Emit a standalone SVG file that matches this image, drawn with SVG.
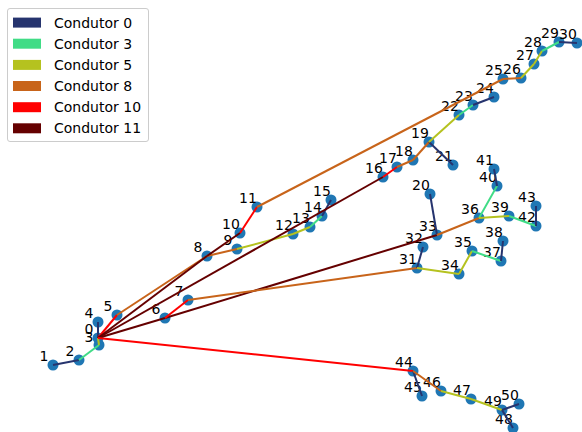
<svg xmlns="http://www.w3.org/2000/svg" width="582" height="432" viewBox="0 0 582 432">
<style>
  .n circle { fill: #1f77b4; }
  .n text { font-family: "DejaVu Sans", sans-serif; font-size: 14px; fill: #000; text-anchor: middle; }
  .e line { stroke-width: 2; stroke-linecap: butt; fill: none; }
  .c0 { stroke: #26346e; }
  .c3 { stroke: #40dc86; }
  .c5 { stroke: #b5c21f; }
  .c8 { stroke: #c8641a; }
  .c10 { stroke: #ff0000; }
  .c11 { stroke: #650000; }
  .lg text { font-family: "DejaVu Sans", sans-serif; font-size: 14px; fill: #000; }
</style>
<rect width="582" height="432" fill="#ffffff"/>

<!-- nodes: dot plus its label, label offset up-left of the dot -->
<g id="node-0" class="n"><circle cx="98" cy="338" r="5.5"/><text x="89" y="334">0</text></g>
<g id="node-1" class="n"><circle cx="53" cy="365" r="5.5"/><text x="44" y="361">1</text></g>
<g id="node-2" class="n"><circle cx="79" cy="360" r="5.5"/><text x="70" y="356">2</text></g>
<g id="node-3" class="n"><circle cx="99" cy="345" r="5.5"/><text x="89" y="342">3</text></g>
<g id="node-4" class="n"><circle cx="98" cy="322" r="5.5"/><text x="89" y="318">4</text></g>
<g id="node-5" class="n"><circle cx="117" cy="315" r="5.5"/><text x="108" y="311">5</text></g>
<g id="node-6" class="n"><circle cx="165" cy="318" r="5.5"/><text x="156" y="314">6</text></g>
<g id="node-7" class="n"><circle cx="188" cy="300" r="5.5"/><text x="179" y="296">7</text></g>
<g id="node-8" class="n"><circle cx="207" cy="256" r="5.5"/><text x="198" y="252">8</text></g>
<g id="node-9" class="n"><circle cx="237" cy="249" r="5.5"/><text x="228" y="245">9</text></g>
<g id="node-10" class="n"><circle cx="240" cy="233" r="5.5"/><text x="231" y="229">10</text></g>
<g id="node-11" class="n"><circle cx="257" cy="207" r="5.5"/><text x="248" y="203">11</text></g>
<g id="node-12" class="n"><circle cx="293" cy="234" r="5.5"/><text x="284" y="230">12</text></g>
<g id="node-13" class="n"><circle cx="310" cy="227" r="5.5"/><text x="301" y="223">13</text></g>
<g id="node-14" class="n"><circle cx="322" cy="216" r="5.5"/><text x="313" y="212">14</text></g>
<g id="node-15" class="n"><circle cx="331" cy="200" r="5.5"/><text x="322" y="196">15</text></g>
<g id="node-16" class="n"><circle cx="383" cy="177" r="5.5"/><text x="374" y="173">16</text></g>
<g id="node-17" class="n"><circle cx="397" cy="167" r="5.5"/><text x="388" y="163">17</text></g>
<g id="node-18" class="n"><circle cx="413" cy="160" r="5.5"/><text x="404" y="156">18</text></g>
<g id="node-19" class="n"><circle cx="429" cy="142" r="5.5"/><text x="420" y="138">19</text></g>
<g id="node-20" class="n"><circle cx="430" cy="194" r="5.5"/><text x="421" y="190">20</text></g>
<g id="node-21" class="n"><circle cx="453" cy="165" r="5.5"/><text x="444" y="161">21</text></g>
<g id="node-22" class="n"><circle cx="459" cy="115" r="5.5"/><text x="450" y="111">22</text></g>
<g id="node-23" class="n"><circle cx="473" cy="105" r="5.5"/><text x="464" y="101">23</text></g>
<g id="node-24" class="n"><circle cx="494" cy="97" r="5.5"/><text x="485" y="93">24</text></g>
<g id="node-25" class="n"><circle cx="503" cy="79" r="5.5"/><text x="494" y="75">25</text></g>
<g id="node-26" class="n"><circle cx="521" cy="78" r="5.5"/><text x="512" y="74">26</text></g>
<g id="node-27" class="n"><circle cx="534" cy="64" r="5.5"/><text x="525" y="60">27</text></g>
<g id="node-28" class="n"><circle cx="542" cy="51" r="5.5"/><text x="533" y="47">28</text></g>
<g id="node-29" class="n"><circle cx="559" cy="42" r="5.5"/><text x="550" y="38">29</text></g>
<g id="node-30" class="n"><circle cx="577" cy="43" r="5.5"/><text x="568" y="39">30</text></g>
<g id="node-31" class="n"><circle cx="417" cy="268" r="5.5"/><text x="408" y="264">31</text></g>
<g id="node-32" class="n"><circle cx="423" cy="247" r="5.5"/><text x="414" y="243">32</text></g>
<g id="node-33" class="n"><circle cx="437" cy="235" r="5.5"/><text x="428" y="231">33</text></g>
<g id="node-34" class="n"><circle cx="459" cy="274" r="5.5"/><text x="450" y="270">34</text></g>
<g id="node-35" class="n"><circle cx="472" cy="251" r="5.5"/><text x="463" y="247">35</text></g>
<g id="node-36" class="n"><circle cx="479" cy="218" r="5.5"/><text x="470" y="214">36</text></g>
<g id="node-37" class="n"><circle cx="501" cy="261" r="5.5"/><text x="492" y="257">37</text></g>
<g id="node-38" class="n"><circle cx="503" cy="241" r="5.5"/><text x="494" y="237">38</text></g>
<g id="node-39" class="n"><circle cx="509" cy="216" r="5.5"/><text x="500" y="212">39</text></g>
<g id="node-40" class="n"><circle cx="497" cy="186" r="5.5"/><text x="488" y="182">40</text></g>
<g id="node-41" class="n"><circle cx="494" cy="169" r="5.5"/><text x="485" y="165">41</text></g>
<g id="node-42" class="n"><circle cx="536" cy="226" r="5.5"/><text x="527" y="222">42</text></g>
<g id="node-43" class="n"><circle cx="536" cy="206" r="5.5"/><text x="527" y="202">43</text></g>
<g id="node-44" class="n"><circle cx="413" cy="371" r="5.5"/><text x="404" y="367">44</text></g>
<g id="node-45" class="n"><circle cx="422" cy="396" r="5.5"/><text x="413" y="392">45</text></g>
<g id="node-46" class="n"><circle cx="441" cy="391" r="5.5"/><text x="432" y="387">46</text></g>
<g id="node-47" class="n"><circle cx="471" cy="399" r="5.5"/><text x="462" y="395">47</text></g>
<g id="node-48" class="n"><circle cx="513" cy="428" r="5.5"/><text x="504" y="424">48</text></g>
<g id="node-49" class="n"><circle cx="502" cy="410" r="5.5"/><text x="493" y="406">49</text></g>
<g id="node-50" class="n"><circle cx="519" cy="404" r="5.5"/><text x="510" y="400">50</text></g>

<!-- connectors, coloured by conductor type -->
<g id="edges" class="e">
  <line class="c0" x1="53" y1="365" x2="79" y2="360"/>
  <line class="c3" x1="79" y1="360" x2="99" y2="345"/>
  <line class="c5" x1="98" y1="338" x2="99" y2="345"/>
  <line class="c0" x1="98" y1="338" x2="98" y2="322"/>
  <line class="c10" x1="98" y1="338" x2="117" y2="315"/>
  <line class="c8" x1="117" y1="315" x2="207" y2="256"/>
  <line class="c8" x1="207" y1="256" x2="237" y2="249"/>
  <line class="c5" x1="237" y1="249" x2="293" y2="234"/>
  <line class="c5" x1="293" y1="234" x2="310" y2="227"/>
  <line class="c3" x1="310" y1="227" x2="322" y2="216"/>
  <line class="c0" x1="322" y1="216" x2="331" y2="200"/>
  <line class="c11" x1="98" y1="338" x2="207" y2="256"/>
  <line class="c11" x1="207" y1="256" x2="240" y2="233"/>
  <line class="c10" x1="240" y1="233" x2="257" y2="207"/>
  <line class="c8" x1="257" y1="207" x2="503" y2="79"/>
  <line class="c8" x1="503" y1="79" x2="521" y2="78"/>
  <line class="c5" x1="521" y1="78" x2="534" y2="64"/>
  <line class="c5" x1="534" y1="64" x2="542" y2="51"/>
  <line class="c3" x1="542" y1="51" x2="559" y2="42"/>
  <line class="c0" x1="559" y1="42" x2="577" y2="43"/>
  <line class="c11" x1="98" y1="338" x2="383" y2="177"/>
  <line class="c10" x1="383" y1="177" x2="397" y2="167"/>
  <line class="c8" x1="397" y1="167" x2="413" y2="160"/>
  <line class="c8" x1="413" y1="160" x2="429" y2="142"/>
  <line class="c0" x1="429" y1="142" x2="453" y2="165"/>
  <line class="c5" x1="429" y1="142" x2="459" y2="115"/>
  <line class="c3" x1="459" y1="115" x2="473" y2="105"/>
  <line class="c0" x1="473" y1="105" x2="494" y2="97"/>
  <line class="c11" x1="98" y1="338" x2="165" y2="318"/>
  <line class="c11" x1="165" y1="318" x2="437" y2="235"/>
  <line class="c10" x1="165" y1="318" x2="188" y2="300"/>
  <line class="c8" x1="188" y1="300" x2="417" y2="268"/>
  <line class="c0" x1="417" y1="268" x2="423" y2="247"/>
  <line class="c5" x1="417" y1="268" x2="459" y2="274"/>
  <line class="c5" x1="459" y1="274" x2="472" y2="251"/>
  <line class="c3" x1="472" y1="251" x2="501" y2="261"/>
  <line class="c0" x1="501" y1="261" x2="503" y2="241"/>
  <line class="c0" x1="430" y1="194" x2="437" y2="235"/>
  <line class="c8" x1="437" y1="235" x2="479" y2="218"/>
  <line class="c3" x1="479" y1="218" x2="497" y2="186"/>
  <line class="c0" x1="497" y1="186" x2="494" y2="169"/>
  <line class="c5" x1="479" y1="218" x2="509" y2="216"/>
  <line class="c3" x1="509" y1="216" x2="536" y2="226"/>
  <line class="c0" x1="536" y1="226" x2="536" y2="206"/>
  <line class="c10" x1="98" y1="338" x2="413" y2="371"/>
  <line class="c0" x1="413" y1="371" x2="422" y2="396"/>
  <line class="c8" x1="413" y1="371" x2="441" y2="391"/>
  <line class="c5" x1="441" y1="391" x2="471" y2="399"/>
  <line class="c5" x1="471" y1="399" x2="502" y2="410"/>
  <line class="c0" x1="502" y1="410" x2="519" y2="404"/>
  <line class="c0" x1="502" y1="410" x2="513" y2="428"/>
</g>

<!-- legend -->
<g id="legend" class="lg">
  <rect x="7.5" y="8.5" width="141" height="133" rx="2.5" fill="#ffffff" fill-opacity="0.8" stroke="#cccccc" stroke-width="1"/>
  <rect x="13" y="17.6" width="28" height="10" fill="#26346e"/>
  <text x="54" y="27.6">Condutor 0</text>
  <rect x="13" y="38.7" width="28" height="10" fill="#40dc86"/>
  <text x="54" y="48.7">Condutor 3</text>
  <rect x="13" y="59.9" width="28" height="10" fill="#b5c21f"/>
  <text x="54" y="69.9">Condutor 5</text>
  <rect x="13" y="81" width="28" height="10" fill="#c8641a"/>
  <text x="54" y="91">Condutor 8</text>
  <rect x="13" y="102.2" width="28" height="10" fill="#ff0000"/>
  <text x="54" y="112.2">Condutor 10</text>
  <rect x="13" y="123.3" width="28" height="10" fill="#650000"/>
  <text x="54" y="133.3">Condutor 11</text>
</g>
</svg>
